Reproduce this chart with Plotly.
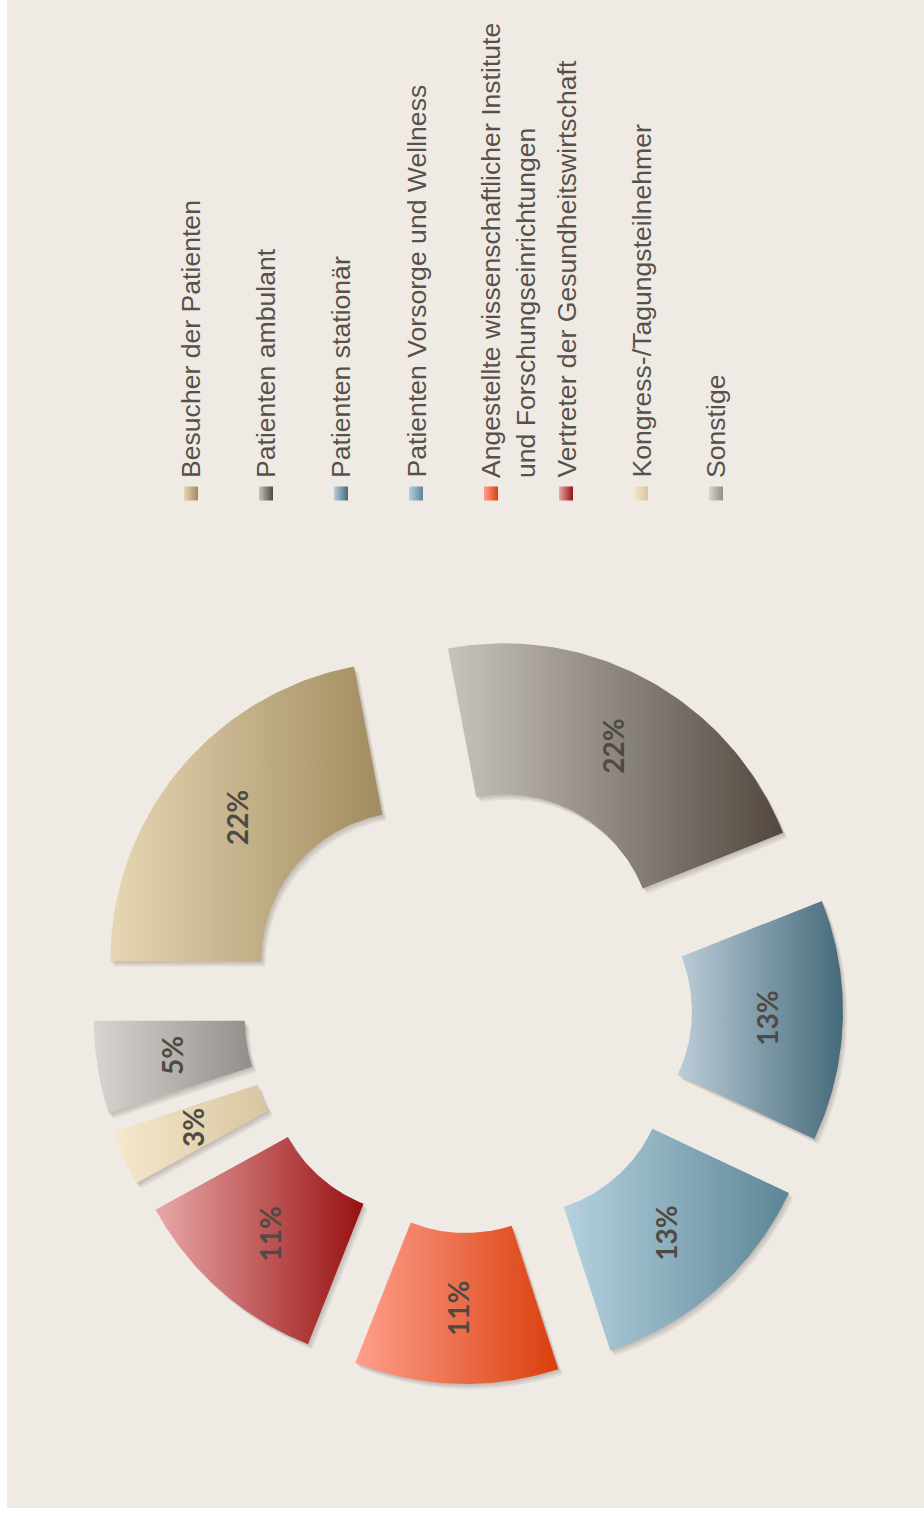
import numpy as np
import plotly.graph_objects as go

# Visitor structure (shares in percent), drawn as an exploded donut turned on its side
categories = [
    "Besucher der Patienten",
    "Patienten ambulant",
    "Patienten stationär",
    "Patienten Vorsorge und Wellness",
    "Angestellte wissenschaftlicher Institute<br>und Forschungseinrichtungen",
    "Vertreter der Gesundheitswirtschaft",
    "Kongress-/Tagungsteilnehmer",
    "Sonstige",
]
shares = [22, 22, 13, 13, 11, 11, 3, 5]
value_labels = [f"{v}%" for v in shares]

# gradient end colours per segment (light -> dark, left to right)
light_colors = ["#e7d6b4", "#c8c4bd", "#bccdd8", "#b6d1df", "#ff9f8d", "#e8a8a8", "#f6e8cd", "#d8d5d1"]
dark_colors = ["#a18b5f", "#524840", "#456a7a", "#5b8697", "#d93f0c", "#981010", "#d8c5a0", "#938e89"]

# donut geometry in pixel units (y grows downward)
W, H = 924, 1516
CX, CY = 468, 1009
R_OUT, R_IN = 300, 149
PULL = 75
START_DEG = 180.0          # first segment starts at the left, runs clockwise

BG = "#efebe4"
TEXT = "#57514b"
LABEL = "#4f4a45"

fig = go.Figure()


def wedge(a0, a1, dx=0.0, dy=0.0, n=90):
    t = np.radians(np.linspace(a0, a1, n))
    xo = CX + R_OUT * np.cos(t)
    yo = CY - R_OUT * np.sin(t)
    xi = CX + R_IN * np.cos(t[::-1])
    yi = CY - R_IN * np.sin(t[::-1])
    xs = np.concatenate([xo, xi, xo[:1]]) + dx
    ys = np.concatenate([yo, yi, yo[:1]]) + dy
    return xs, ys


total = float(sum(shares))
angle = START_DEG
segments = []
for v in shares:
    sweep = 360.0 * v / total
    a0, a1 = angle, angle - sweep
    mid = np.radians((a0 + a1) / 2)
    px, py = PULL * np.cos(mid), -PULL * np.sin(mid)
    segments.append((a0, a1, mid, px, py))
    angle = a1

# soft drop shadows
for a0, a1, mid, px, py in segments:
    for k in range(1, 6):
        xs, ys = wedge(a0, a1, px + 0.9 * k, py + 1.1 * k)
        fig.add_trace(go.Scatter(
            x=xs, y=ys, mode="lines", fill="toself",
            line=dict(width=0), fillcolor="rgba(70,60,50,0.055)",
            hoverinfo="skip", showlegend=False))

# segments with left-to-right colour gradient
for i, (a0, a1, mid, px, py) in enumerate(segments):
    xs, ys = wedge(a0, a1, px, py)
    fig.add_trace(go.Scatter(
        x=xs, y=ys, mode="lines", fill="toself",
        line=dict(width=0),
        fillgradient=dict(type="horizontal",
                          colorscale=[[0, light_colors[i]], [1, dark_colors[i]]]),
        hoverinfo="skip", showlegend=False))

# percentage labels in the middle of each ring segment
annotations = []
r_mid = (R_OUT + R_IN) / 2
for (a0, a1, mid, px, py), lab in zip(segments, value_labels):
    annotations.append(dict(
        x=CX + r_mid * np.cos(mid) + px, y=CY - r_mid * np.sin(mid) + py,
        xref="x", yref="y", text=lab, showarrow=False, textangle=-90,
        xanchor="center", yanchor="middle",
        font=dict(family="Lato, DejaVu Sans, sans-serif", size=28, color=LABEL, weight="bold")))

# legend: gradient swatches with upright-reading rotated captions
LEG_X0, LEG_STEP, SW = 184, 75, 14
SW_Y0 = 486.5
for i, name in enumerate(categories):
    x0 = LEG_X0 + LEG_STEP * i
    fig.add_trace(go.Scatter(
        x=[x0, x0 + SW, x0 + SW, x0, x0], y=[SW_Y0, SW_Y0, SW_Y0 + SW, SW_Y0 + SW, SW_Y0],
        mode="lines", fill="toself", line=dict(width=0),
        fillgradient=dict(type="horizontal",
                          colorscale=[[0, light_colors[i]], [1, dark_colors[i]]]),
        hoverinfo="skip", showlegend=False))
    annotations.append(dict(
        x=x0 - 10, y=480, xref="x", yref="y", text=name, showarrow=False,
        textangle=-90, xanchor="left", yanchor="bottom", align="left",
        font=dict(family="Liberation Sans, Arial, sans-serif", size=26.6, color=TEXT)))

fig.update_layout(
    width=W, height=H,
    margin=dict(l=0, r=0, t=0, b=0),
    paper_bgcolor="white", plot_bgcolor="white",
    xaxis=dict(range=[0, W], visible=False, fixedrange=True),
    yaxis=dict(range=[H, 0], visible=False, fixedrange=True),
    shapes=[dict(type="rect", xref="x", yref="y", x0=7, x1=W, y0=0, y1=1508,
                 fillcolor=BG, line=dict(width=0), layer="below")],
    annotations=annotations,
    showlegend=False,
)

fig.write_html("out.html")
